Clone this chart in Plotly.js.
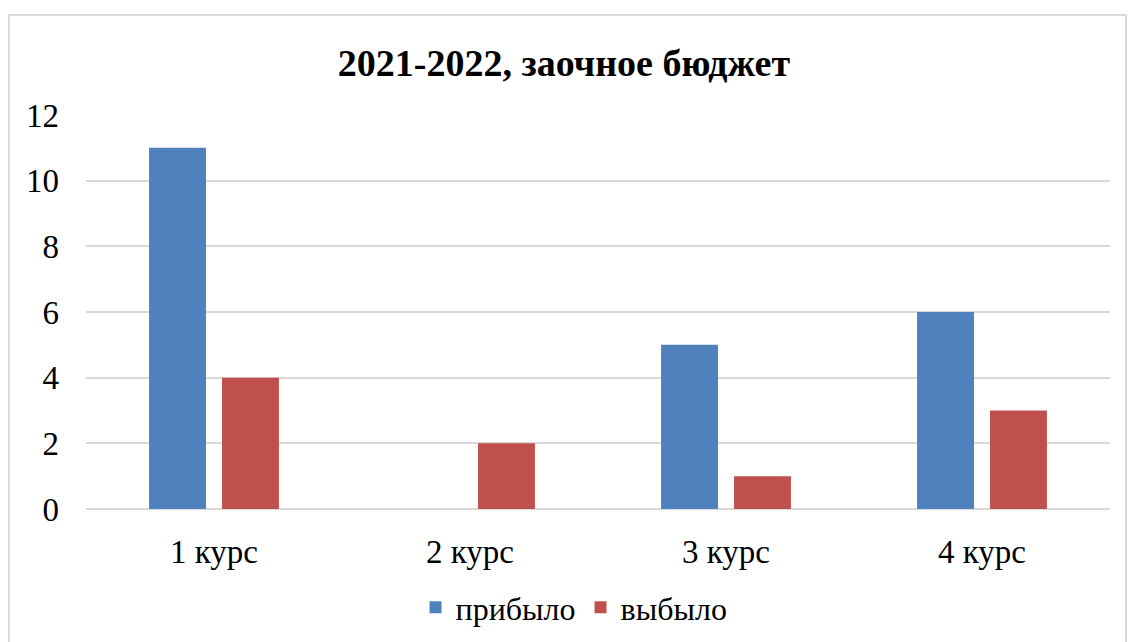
<!DOCTYPE html>
<html>
<head>
<meta charset="utf-8">
<script src="https://cdn.plot.ly/plotly-3.0.1.min.js"></script>
<style>html,body{margin:0;padding:0;background:#fff;}#chart{width:1128px;height:642px;}</style>
</head>
<body>
<div id="chart"></div>
<script>
const categories = ["1 курс", "2 курс", "3 курс", "4 курс"];
const arrived = [11, 0, 5, 6];
const left = [4, 2, 1, 3];
const seriesNames = ["прибыло", "выбыло"];
const yTicks = [0, 2, 4, 6, 8, 10, 12];
const titleText = "2021-2022, заочное бюджет";

const FONT = "'Liberation Serif', 'Times New Roman', serif";

const data = [
  {type: "bar", name: seriesNames[0], x: categories, y: arrived, marker: {color: "#4F81BD"}},
  {type: "bar", name: seriesNames[1], x: categories, y: left, marker: {color: "#C0504D"}}
];

const layout = {
  width: 1128, height: 642,
  paper_bgcolor: "#fff", plot_bgcolor: "#fff",
  margin: {l: 86, r: 18, t: 115, b: 133, autoexpand: false},
  font: {family: FONT, color: "#000", size: 33},
  title: {text: "<b>" + titleText + "</b>", font: {family: FONT, size: 38, color: "#000"},
          x: 0.5, xanchor: "center", y: 0.903, yanchor: "middle"},
  barmode: "group",
  bargap: 0.43,
  bargroupgap: 0.22,
  xaxis: {type: "category", showgrid: false, showline: false, zeroline: false, ticks: "",
          tickfont: {family: FONT, size: 33, color: "#000"}, ticklabelstandoff: 20},
  yaxis: {range: [0, 12], tickvals: yTicks, showgrid: true, gridcolor: "#d9d9d9", gridwidth: 2,
          zeroline: true, zerolinecolor: "#d9d9d9", zerolinewidth: 2, showline: false, ticks: "",
          tickfont: {family: FONT, size: 33, color: "#000"}, ticklabelstandoff: 26},
  showlegend: true,
  legend: {orientation: "h", x: 0.4766, xanchor: "center", y: -0.25, yanchor: "middle",
           font: {family: FONT, size: 32, color: "#000"}, itemwidth: 30, traceorder: "normal"},
  shapes: [{type: "rect", xref: "paper", yref: "paper",
            x0: (9 - 86) / 1024, x1: (1126 - 86) / 1024, y0: -0.36, y1: (509 - 15) / 394,
            line: {color: "#d9d9d9", width: 2}, fillcolor: "rgba(0,0,0,0)"}]
};

Plotly.newPlot("chart", data, layout, {displayModeBar: false, staticPlot: true});
</script>
</body>
</html>
